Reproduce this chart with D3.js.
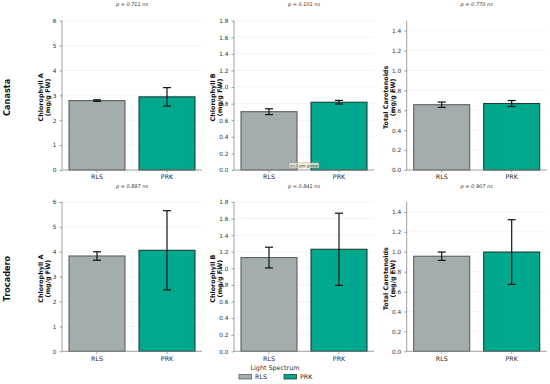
<!DOCTYPE html>
<html><head><meta charset="utf-8">
<script src="https://cdn.jsdelivr.net/npm/d3@7"></script>
<style>body{margin:0;background:#fff}svg{display:block}text{font-family:"DejaVu Sans",sans-serif}</style>
</head><body><div id="chart"></div>
<script>
const groups = ["RLS", "PRK"];
const cultivars = ["Canasta", "Trocadero"];
const traits = ["Chlorophyll A", "Chlorophyll B", "Total Carotenoids"];
const yMax = [6, 1.8, 1.5];
const yTicks = [[0,1,2,3,4,5,6],[0,0.2,0.4,0.6,0.8,1.0,1.2,1.4,1.6,1.8],[0,0.2,0.4,0.6,0.8,1.0,1.2,1.4]];
const tickFmt = [d3.format("d"), d3.format(".1f"), d3.format(".1f")];
// means[cultivar][trait][group]
const canastaMeans = [[2.79, 2.94],[0.703, 0.817],[0.656, 0.668]];
const canastaErr   = [[0.03, 0.37],[0.035, 0.022],[0.027, 0.03]];
const trocaderoMeans = [[3.83, 4.06],[1.13, 1.23],[0.955, 0.997]];
const trocaderoErr   = [[0.17, 1.59],[0.125, 0.435],[0.042, 0.325]];
const canastaP = ["p = 0.711 ns","p = 0.101 ns","p = 0.770 ns"];
const trocaderoP = ["p = 0.897 ns","p = 0.841 ns","p = 0.907 ns"];
const unitLabel = "(mg/g FW)";
const legendTitle = "Light Spectrum";
const noteText = "n=3 per group";

const means = [canastaMeans, trocaderoMeans];
const errs = [canastaErr, trocaderoErr];
const pvals = [canastaP, trocaderoP];
const fills = {RLS:"#a4adad", PRK:"#00a98d"};
const strokes = {RLS:"#5c6060", PRK:"#1c3f37"};

const W=550,H=384;
const svg=d3.select("#chart").append("svg").attr("width",W).attr("height",H);
const colX=[62,234,406.7], plotW=140;
const rowY=[[170,20.7],[351.3,202]];

cultivars.forEach((cv,ri)=>{
  const [yb,yt]=rowY[ri];
  svg.append("text").attr("transform",`translate(7,${(yb+yt)/2+2}) rotate(-90)`)
    .attr("text-anchor","middle").attr("dominant-baseline","central")
    .attr("font-size",8.2).attr("font-weight","bold").attr("fill","#111").text(cv);
  traits.forEach((tr,ci)=>{
    const x0=colX[ci];
    const x=d3.scaleBand().domain(groups).range([x0,x0+plotW]).paddingInner(0.2).paddingOuter(0.1);
    const y=d3.scaleLinear().domain([0,yMax[ci]]).range([yb,yt]);
    const g=svg.append("g");
    // grid
    g.selectAll("line.grid").data(yTicks[ci].slice(1)).join("line")
      .attr("x1",x0).attr("x2",x0+plotW).attr("y1",d=>y(d)).attr("y2",d=>y(d))
      .attr("stroke","#ececec").attr("stroke-width",0.6);
    // bars
    groups.forEach((gr,gi)=>{
      const v=means[ri][ci][gi], e=errs[ri][ci][gi];
      g.append("rect").attr("x",x(gr)).attr("width",x.bandwidth())
        .attr("y",y(v)).attr("height",y(0)-y(v))
        .attr("fill",fills[gr]).attr("stroke",strokes[gr]).attr("stroke-width",1.1);
      const cx=x(gr)+x.bandwidth()/2;
      const eg=g.append("g").attr("stroke","#111").attr("stroke-width",1.2);
      eg.append("line").attr("x1",cx).attr("x2",cx).attr("y1",y(v+e)).attr("y2",y(v-e));
      eg.append("line").attr("x1",cx-4).attr("x2",cx+4).attr("y1",y(v+e)).attr("y2",y(v+e));
      eg.append("line").attr("x1",cx-4).attr("x2",cx+4).attr("y1",y(v-e)).attr("y2",y(v-e));
    });
    // y axis
    const ya=g.append("g").attr("transform",`translate(${x0},0)`)
      .call(d3.axisLeft(y).tickValues(yTicks[ci]).tickFormat(tickFmt[ci]).tickSize(2.5).tickPadding(3));
    ya.select(".domain").attr("stroke","#888").attr("stroke-width",0.8).attr("d",`M0,${yb}V${yt}`);
    ya.selectAll(".tick line").attr("stroke","#666").attr("stroke-width",0.6);
    ya.selectAll(".tick text").attr("font-size",5.8).attr("fill","#333").attr("font-family","DejaVu Sans");
    // x axis
    const xa=g.append("g").attr("transform",`translate(0,${yb})`)
      .call(d3.axisBottom(x).tickSize(2.5).tickPadding(2.5));
    xa.select(".domain").attr("stroke","#888").attr("stroke-width",0.8).attr("d",`M${x0},0H${x0+plotW}`);
    xa.selectAll(".tick line").attr("stroke","#666").attr("stroke-width",0.6);
    xa.selectAll(".tick text").attr("font-size",6.3).attr("fill","#222").attr("font-family","DejaVu Sans");
    // y label
    const lt=g.append("text").attr("transform",`translate(${x0-16},${(yb+yt)/2+2}) rotate(-90)`)
      .attr("text-anchor","middle").attr("font-size",6.4).attr("font-weight","bold").attr("fill","#111");
    lt.append("tspan").attr("x",0).attr("dy","-0.4em").text(tr);
    lt.append("tspan").attr("x",0).attr("dy","1.05em").text(unitLabel);
    // p value
    g.append("text").attr("x",x0+plotW/2).attr("y",yt-14.5).attr("text-anchor","middle")
      .attr("font-size",5).attr("font-style","italic").attr("fill","#333").text(pvals[ri][ci]);
  });
});
// note box in panel (Canasta, Chl B)
{
  const cx=colX[1]+plotW/2, cy=165.3;
  const ng=svg.append("g");
  ng.append("rect").attr("x",cx-15).attr("y",cy-2.6).attr("width",30).attr("height",5.2).attr("rx",1)
    .attr("fill","#f3f0d6").attr("fill-opacity",0.8).attr("stroke","#888").attr("stroke-width",0.4);
  ng.append("text").attr("x",cx).attr("y",cy).attr("text-anchor","middle").attr("dominant-baseline","central")
    .attr("font-size",3.8).attr("font-style","italic").attr("fill","#333").text(noteText);
}
// legend
svg.append("text").attr("x",275).attr("y",370).attr("text-anchor","middle").attr("font-size",6.4)
  .attr("fill","#333").text(legendTitle);
const legX=[239,284];
groups.forEach((gr,i)=>{
  svg.append("rect").attr("x",legX[i]).attr("y",374.5).attr("width",12.5).attr("height",4.5)
    .attr("fill",fills[gr]).attr("stroke",strokes[gr]).attr("stroke-width",0.8);
  svg.append("text").attr("x",legX[i]+16).attr("y",379).attr("font-size",6.3).attr("fill","#222").text(gr);
});
</script></body></html>
